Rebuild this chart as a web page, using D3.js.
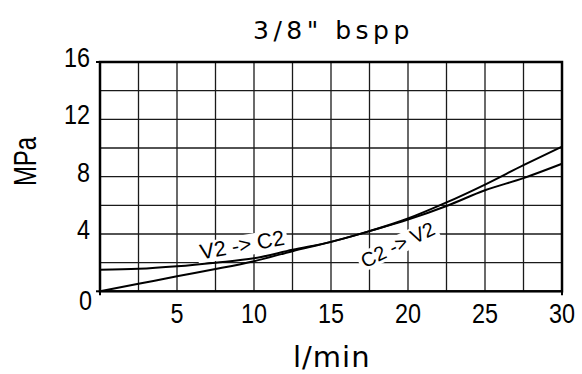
<!DOCTYPE html>
<html>
<head>
<meta charset="utf-8">
<script src="https://cdn.jsdelivr.net/npm/d3@7"></script>
<style>
  html, body { margin: 0; padding: 0; background: #fff; }
  svg { display: block; }
</style>
</head>
<body>
<svg id="chart" width="582" height="374"></svg>
<script>
// ---- data ----
const flow = [0, 2.5, 5, 7.5, 10, 12.5, 15, 17.5, 20, 22.5, 25, 27.5, 30];
const v2c2 = [1.5, 1.57, 1.75, 2.0, 2.3, 2.9, 3.45, 4.2, 5.0, 5.95, 7.05, 7.9, 8.9];
const c2v2 = [0, 0.52, 1.05, 1.55, 2.1, 2.8, 3.45, 4.2, 5.08, 6.2, 7.45, 8.8, 10.1];
const xTickLabels = [5, 10, 15, 20, 25, 30];
const yTickLabels = [0, 4, 8, 12, 16];
const xGrid = d3.range(0, 30.01, 2.5);
const yGrid = d3.range(0, 16.01, 2);
const title = '3/8" bspp';
const xTitle = 'l/min';
const yTitle = 'MPa';
const labelA = 'V2 -> C2';
const labelB = 'C2 -> V2';

// ---- layout ----
const svg = d3.select('#chart');
const x = d3.scaleLinear().domain([0, 30]).range([100, 562]);
const y = d3.scaleLinear().domain([0, 16]).range([291.3, 62]);
const sansFont = '"Liberation Sans", Arial, sans-serif';
const isoFont = '"DejaVu Sans", sans-serif';

// grid
const grid = svg.append('g').attr('stroke', '#1a1a1a').attr('stroke-width', 1.3);
grid.selectAll('line.v').data(xGrid).join('line')
  .attr('x1', d => x(d)).attr('x2', d => x(d))
  .attr('y1', y(0)).attr('y2', y(16));
grid.selectAll('line.h').data(yGrid).join('line')
  .attr('x1', x(0)).attr('x2', x(30))
  .attr('y1', d => y(d)).attr('y2', d => y(d));

// curve labels with white backgrounds
function curveLabel(text, cx, cy, angle, size) {
  const g = svg.append('g').attr('transform', `translate(${cx},${cy}) rotate(${angle})`);
  const rect = g.append('rect').attr('fill', '#fff');
  const t = g.append('text')
    .attr('text-anchor', 'middle')
    .attr('dy', '0.36em')
    .attr('font-family', sansFont)
    .attr('font-size', size)
    .attr('fill', '#000')
    .text(text);
  const bb = t.node().getBBox();
  rect.attr('x', bb.x - 3).attr('y', bb.y + 2).attr('width', bb.width + 6).attr('height', bb.height - 3);
}
curveLabel(labelA, 242, 244.5, -10, 21.5);
curveLabel(labelB, 397.5, 244.5, -26, 20);

// curves
const line = d3.line().x(d => x(d[0])).y(d => y(d[1])).curve(d3.curveMonotoneX);
[v2c2, c2v2].forEach(series => {
  svg.append('path')
    .datum(flow.map((f, i) => [f, series[i]]))
    .attr('d', line)
    .attr('fill', 'none')
    .attr('stroke', '#000')
    .attr('stroke-width', 2);
});

// frame
svg.append('rect')
  .attr('x', x(0)).attr('y', y(16))
  .attr('width', x(30) - x(0)).attr('height', y(0) - y(16))
  .attr('fill', 'none').attr('stroke', '#000').attr('stroke-width', 2.5);
// small ticks
const ticks = svg.append('g').attr('stroke', '#000').attr('stroke-width', 2);
ticks.selectAll('line.yt').data([0, 16]).join('line')
  .attr('x1', x(0) - 4).attr('x2', x(0)).attr('y1', d => y(d)).attr('y2', d => y(d));
ticks.selectAll('line.xt').data([0, 30]).join('line')
  .attr('x1', d => x(d)).attr('x2', d => x(d)).attr('y1', y(0)).attr('y2', y(0) + 4);

// y tick labels
svg.append('g').selectAll('text').data(yTickLabels).join('text')
  .attr('x', d => d === 0 ? 92 : 90)
  .attr('y', d => d === 0 ? y(d) + 19 : y(d) + 5)
  .attr('text-anchor', 'end')
  .attr('font-family', sansFont)
  .attr('font-size', 28)
  .attr('textLength', d => String(d).length * 13)
  .attr('lengthAdjust', 'spacingAndGlyphs')
  .attr('fill', '#000')
  .text(d => d);

// x tick labels
svg.append('g').selectAll('text').data(xTickLabels).join('text')
  .attr('x', d => x(d))
  .attr('y', 322.5)
  .attr('text-anchor', 'middle')
  .attr('font-family', sansFont)
  .attr('font-size', 28)
  .attr('textLength', d => String(d).length * 13)
  .attr('lengthAdjust', 'spacingAndGlyphs')
  .attr('fill', '#000')
  .text(d => d);

// title
svg.append('text')
  .attr('x', 253).attr('y', 39)
  .attr('font-family', isoFont)
  .attr('font-size', 25)
  .attr('letter-spacing', 4.5)
  .attr('fill', '#000')
  .text(title);

// x axis title
svg.append('text')
  .attr('x', 293).attr('y', 367)
  .attr('font-family', isoFont)
  .attr('font-size', 29)
  .attr('letter-spacing', 1)
  .attr('fill', '#000')
  .text(xTitle);

// y axis title
svg.append('text')
  .attr('transform', 'translate(36,186) rotate(-90)')
  .attr('x', 0).attr('y', 0)
  .attr('font-family', sansFont)
  .attr('font-size', 31)
  .attr('textLength', 49)
  .attr('lengthAdjust', 'spacingAndGlyphs')
  .attr('fill', '#000')
  .text(yTitle);
</script>
</body>
</html>
